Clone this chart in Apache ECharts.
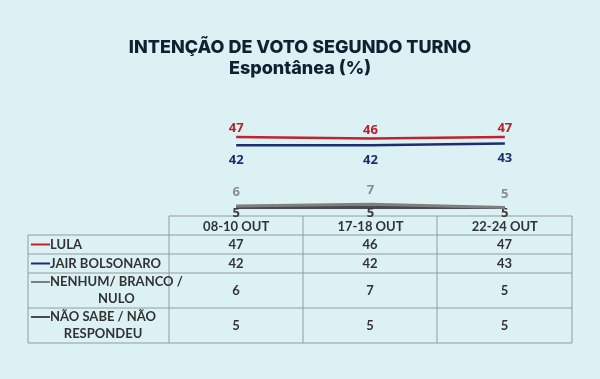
<!DOCTYPE html>
<html><head><meta charset="utf-8">
<script src="https://cdn.jsdelivr.net/npm/echarts@6/dist/echarts.min.js"></script>
<style>html,body{margin:0;padding:0;background:#dcf1f4;}#c{width:600px;height:379px;}</style>
</head><body><div id="c"></div>
<script>
const categories = ['08-10 OUT', '17-18 OUT', '22-24 OUT'];
const lula = [47, 46, 47];
const bolsonaro = [42, 42, 43];
const nenhum = [6, 7, 5];
const naoSabe = [5, 5, 5];
const seriesNames = ['LULA', 'JAIR BOLSONARO', 'NENHUM/ BRANCO / NULO', 'NÃO SABE / NÃO RESPONDEU'];
const tableLabels = [['LULA'], ['JAIR BOLSONARO'], ['NENHUM/ BRANCO /', 'NULO'], ['NÃO SABE / NÃO', 'RESPONDEU']];
const colors = ['#c0232b', '#1b2f6e', '#7f7f7f', '#4a4a4a'];
const labelColors = ['#b8202a', '#1b2f6e', '#8c8c8c', '#3d3d3d'];
const allData = [lula, bolsonaro, nenhum, naoSabe];

const FONT = 'Lato';
const TFONT = 'bold 13px Lato';
const gridLeft = 169, gridRight = 28, gridTop = 115, gridBottomY = 216;
const tableLeft = 28, tableRight = 572;
const rowY = [216, 235, 254, 273, 308, 343];
const colX = [169, 303, 437, 572];
const lineCol = '#8f9c9e';

const measureCtx = document.createElement('canvas').getContext('2d');
measureCtx.font = TFONT;

const graphics = [];
graphics.push({type:'line', shape:{x1:colX[0], y1:rowY[0], x2:tableRight, y2:rowY[0]}, style:{stroke:lineCol, lineWidth:1}});
for (let i = 1; i < rowY.length; i++) {
  graphics.push({type:'line', shape:{x1:tableLeft, y1:rowY[i], x2:tableRight, y2:rowY[i]}, style:{stroke:lineCol, lineWidth:1}});
}
graphics.push({type:'line', shape:{x1:tableLeft, y1:rowY[1], x2:tableLeft, y2:rowY[5]}, style:{stroke:lineCol, lineWidth:1}});
colX.forEach(x => graphics.push({type:'line', shape:{x1:x, y1:rowY[0], x2:x, y2:rowY[5]}, style:{stroke:lineCol, lineWidth:1}}));
for (let r = 0; r < 4; r++) {
  const y0 = rowY[r+1], y1 = rowY[r+2];
  const lines = tableLabels[r];
  const cy = (y0 + y1) / 2;
  const keyY = lines.length === 1 ? cy : cy - 8.5;
  graphics.push({type:'line', shape:{x1:31, y1:keyY, x2:50, y2:keyY}, style:{stroke:colors[r], lineWidth:2}});
  if (lines.length === 1) {
    graphics.push({type:'text', x:50, y:cy, style:{text:lines[0], font:TFONT, fill:'#333', textVerticalAlign:'middle', textAlign:'left'}});
  } else {
    const w = measureCtx.measureText(lines[0]).width;
    const cx = 50 + w / 2;
    graphics.push({type:'text', x:cx, y:cy - 8.5, style:{text:lines[0], font:TFONT, fill:'#333', textVerticalAlign:'middle', textAlign:'center'}});
    graphics.push({type:'text', x:cx, y:cy + 8.5, style:{text:lines[1], font:TFONT, fill:'#333', textVerticalAlign:'middle', textAlign:'center'}});
  }
  for (let c = 0; c < 3; c++) {
    graphics.push({type:'text', x:(colX[c] + colX[c+1]) / 2, y:cy, style:{text:String(allData[r][c]), font:TFONT, fill:'#333', textAlign:'center', textVerticalAlign:'middle'}});
  }
}

const labelCfg = [
  {position:'top', distance:2},
  {position:'bottom', distance:8},
  {position:'top', distance:7},
  {position:'bottom', distance:-1}
];

const chart = echarts.init(document.getElementById('c'));
chart.setOption({
  backgroundColor: '#dcf1f4',
  animation: false,
  title: {
    text: 'INTENÇÃO DE VOTO SEGUNDO TURNO\nEspontânea (%)',
    left: 'center', top: 32,
    textStyle: {fontFamily: 'Inter', fontWeight: 800, fontSize: 18, color: '#0d2131', lineHeight: 21}
  },
  grid: {left: gridLeft, right: gridRight, top: gridTop, bottom: 379 - gridBottomY},
  xAxis: {
    type: 'category', data: categories, boundaryGap: true,
    axisLine: {show: false}, axisTick: {show: false}, splitLine: {show: false},
    axisLabel: {margin: 4, fontFamily: FONT, fontWeight: 'bold', fontSize: 13, color: '#333'}
  },
  yAxis: {type: 'value', min: 0, max: 60, show: false},
  series: allData.map((d, i) => ({
    name: seriesNames[i], type: 'line', data: d, symbol: 'circle', symbolSize: 0, showSymbol: true,
    lineStyle: {color: colors[i], width: i >= 2 ? 3 : 2.5},
    itemStyle: {color: colors[i]},
    z: 4 - i,
    label: {show: true, position: labelCfg[i].position, distance: labelCfg[i].distance,
      fontFamily: 'Open Sans', fontWeight: 'bold', fontSize: 13, color: labelColors[i]}
  })),
  graphic: graphics
});
</script></body></html>
